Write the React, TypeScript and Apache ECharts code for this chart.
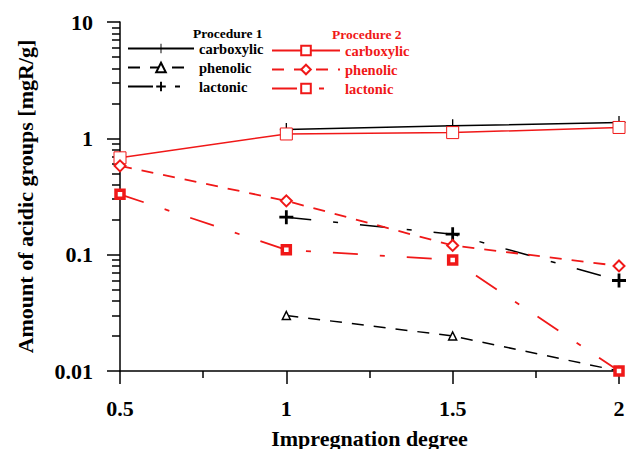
import React, { useEffect, useRef } from "react";
import * as echarts from "echarts";

// Impregnation degree values used on the x axis
const xTicks = [0.5, 1, 1.5, 2];
const yTicks = [0.01, 0.1, 1, 10];

// Procedure 1 (black)
const p1Carboxylic: [number, number][] = [[1, 1.19], [1.5, 1.28], [2, 1.37]];
const p1Phenolic: [number, number][] = [[1, 0.03], [1.5, 0.02], [2, 0.01]];
const p1Lactonic: [number, number][] = [[1, 0.21], [1.5, 0.15], [2, 0.06]];

// Procedure 2 (red)
const p2Carboxylic: [number, number][] = [[0.5, 0.68], [1, 1.09], [1.5, 1.12], [2, 1.24]];
const p2Phenolic: [number, number][] = [[0.5, 0.58], [1, 0.29], [1.5, 0.12], [2, 0.08]];
const p2Lactonic: [number, number][] = [[0.5, 0.33], [1, 0.11], [1.5, 0.09], [2, 0.01]];

// minor tick values on the log axis (2..9 in each decade)
const minorMultipliers = [2, 3, 4, 5, 6, 7, 8, 9];
const decades = [0.01, 0.1, 1];

const FONT = "'Liberation Serif', 'Times New Roman', serif";
const RED = "#f01818";
const BLACK = "#000000";
const PLUS = "path://M4,0h2v4h4v2h-4v4h-2v-4h-4v-2h4z";
const THIN_PLUS = "path://M5.4,0h1.2v5.4h5.4v1.2h-5.4v5.4h-1.2v-5.4h-5.4v-1.2h5.4z";
const DASH_DOT = [25, 22, 5, 22];
const DASH = [12, 10];

export default function App() {
  const ref = useRef<HTMLDivElement>(null);

  useEffect(() => {
    if (!ref.current) return;
    const chart = echarts.init(ref.current, undefined, { renderer: "svg" });

    const minorValues: number[] = [];
    decades.forEach((d) =>
      minorMultipliers.forEach((m) => minorValues.push(+(d * m).toPrecision(3)))
    );

    const legendText = (color: string) => ({
      color,
      fontFamily: FONT,
      fontWeight: "bold" as const,
      fontSize: 14.5,
      lineHeight: 14,
    });

    const logAxisBase = {
      type: "log",
      logBase: 10,
      min: 0.01,
      max: 10,
      position: "left",
      splitLine: { show: false },
    };

    chart.setOption({
      animation: false,
      backgroundColor: "#ffffff",
      grid: { left: 120, right: 7, top: 22, bottom: 78, outerBoundsMode: "none", containLabel: false },
      xAxis: {
        type: "value",
        min: 0.5,
        max: 2,
        interval: 0.5,
        name: "Impregnation degree",
        nameLocation: "middle",
        nameGap: 56,
        nameTextStyle: { fontFamily: FONT, fontWeight: "bold", fontSize: 22, color: BLACK },
        axisLine: { lineStyle: { color: BLACK, width: 1.5 } },
        axisTick: { show: true, length: 13, inside: false, lineStyle: { color: BLACK, width: 1.5 } },
        minorTick: { show: true, splitNumber: 2, length: 7, lineStyle: { color: BLACK, width: 1.5 } },
        splitLine: { show: false },
        axisLabel: {
          margin: 26,
          fontFamily: FONT,
          fontWeight: "bold",
          fontSize: 22,
          color: BLACK,
          formatter: (v: number) => (xTicks.includes(v) ? String(v) : ""),
        },
      },
      yAxis: [
        {
          ...logAxisBase,
          name: "Amount of acidic groups [mgR/g]",
          nameLocation: "middle",
          nameGap: 84,
          nameTextStyle: { fontFamily: FONT, fontWeight: "bold", fontSize: 22, color: BLACK },
          axisLine: { show: true, lineStyle: { color: BLACK, width: 1.5 } },
          axisTick: { show: true, length: 13, customValues: yTicks, lineStyle: { color: BLACK, width: 1.5 } },
          axisLabel: {
            margin: 27,
            fontFamily: FONT,
            fontWeight: "bold",
            fontSize: 22,
            color: BLACK,
            formatter: (v: number) => {
              const t = yTicks.find((k) => Math.abs(k - v) / k < 1e-6);
              return t === undefined ? "" : String(t);
            },
          },
        },
        {
          // minor ticks 2..9 of each decade
          ...logAxisBase,
          axisLine: { show: false },
          axisTick: { show: true, length: 8, customValues: minorValues, lineStyle: { color: BLACK, width: 1.5 } },
          axisLabel: { show: false },
        },
      ],
      legend: [
        {
          orient: "vertical",
          left: 127,
          top: 41,
          padding: 0,
          itemWidth: 66,
          itemHeight: 12,
          itemGap: 4,
          textStyle: legendText(BLACK),
          data: ["P1 carboxylic", "P1 phenolic", "P1 lactonic"],
          formatter: (n: string) => n.replace(/^P\d /, ""),
          selectedMode: false,
        },
        {
          orient: "vertical",
          left: 271,
          top: 43,
          padding: 0,
          itemWidth: 68,
          itemHeight: 12,
          itemGap: 4,
          textStyle: legendText(RED),
          data: ["P2 carboxylic", "P2 phenolic", "P2 lactonic"],
          formatter: (n: string) => n.replace(/^P\d /, ""),
          selectedMode: false,
        },
      ],
      graphic: [
        {
          type: "text",
          left: 193,
          top: 26,
          style: { text: "Procedure 1", fill: BLACK, font: `bold 13.5px ${FONT}`, lineHeight: 14 },
        },
        {
          type: "text",
          left: 332,
          top: 27,
          style: { text: "Procedure 2", fill: RED, font: `bold 13.5px ${FONT}`, lineHeight: 14 },
        },
      ],
      series: [
        {
          name: "P1 carboxylic",
          type: "line",
          data: p1Carboxylic,
          symbol: THIN_PLUS,
          symbolSize: 13,
          itemStyle: { color: BLACK },
          lineStyle: { color: BLACK, width: 1.5, type: "solid" },
        },
        {
          name: "P1 phenolic",
          type: "line",
          data: p1Phenolic,
          symbol: "triangle",
          symbolSize: 8,
          itemStyle: { color: "#ffffff", borderColor: BLACK, borderWidth: 1.5 },
          lineStyle: { color: BLACK, width: 1.5, type: DASH },
        },
        {
          name: "P1 lactonic",
          type: "line",
          data: p1Lactonic,
          symbol: PLUS,
          symbolSize: 14,
          itemStyle: { color: BLACK },
          lineStyle: { color: BLACK, width: 1.5, type: DASH_DOT },
        },
        {
          name: "P2 carboxylic",
          type: "line",
          data: p2Carboxylic,
          symbol: "rect",
          symbolSize: 12,
          itemStyle: { color: "#ffffff", borderColor: RED, borderWidth: 1 },
          lineStyle: { color: RED, width: 1.5, type: "solid" },
        },
        {
          name: "P2 phenolic",
          type: "line",
          data: p2Phenolic,
          symbol: "diamond",
          symbolSize: 11,
          itemStyle: { color: "#ffffff", borderColor: RED, borderWidth: 2 },
          lineStyle: { color: RED, width: 1.8, type: DASH },
        },
        {
          name: "P2 lactonic",
          type: "line",
          data: p2Lactonic,
          symbol: "rect",
          symbolSize: 8,
          itemStyle: { color: "#ffffff", borderColor: RED, borderWidth: 3.5 },
          lineStyle: { color: RED, width: 1.8, type: DASH_DOT },
        },
      ],
    });

    return () => chart.dispose();
  }, []);

  return (
    <div
      ref={ref}
      style={{ position: "fixed", left: 0, top: 0, width: 626, height: 449 }}
    />
  );
}
